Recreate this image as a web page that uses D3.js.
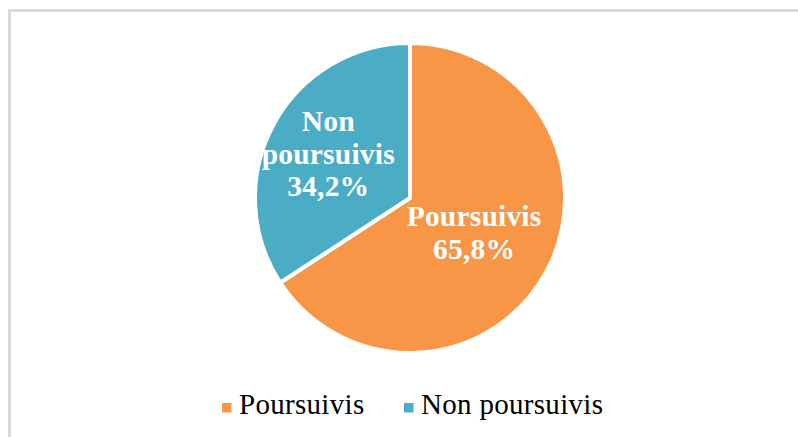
<!DOCTYPE html>
<html>
<head>
<meta charset="utf-8">
<script src="https://cdn.jsdelivr.net/npm/d3@7"></script>
<style>
  html, body { margin: 0; padding: 0; background: #fff; }
  svg { display: block; }
</style>
</head>
<body>
<svg id="chart" width="798" height="437"></svg>
<script>
// pie chart — Poursuivis / Non poursuivis

const categories = ['Poursuivis', 'Non poursuivis'];
const values = [65.8, 34.2];
const labelLines = [['Poursuivis', '65,8%'], ['Non', 'poursuivis', '34,2%']];
const colors = ['#f79646', '#4bacc6'];

const W = 798, H = 437;
const cx = 410, cy = 198, R = 155;
const labelR = [0.47, 0.6]; // radial position of each data label, fraction of R
const lineH = 32.5;

const svg = d3.select('#chart');

// chart area frame (runs off the right and bottom edges)
svg.append('rect')
  .attr('x', 9.5).attr('y', 10.5)
  .attr('width', W + 20).attr('height', H + 20)
  .attr('fill', 'none')
  .attr('stroke', '#d9d9d9')
  .attr('stroke-width', 3);

const pie = d3.pie().sort(null).value(d => d)(values);
const arc = d3.arc().innerRadius(0).outerRadius(R);

const g = svg.append('g').attr('transform', `translate(${cx},${cy})`);

g.selectAll('path')
  .data(pie)
  .join('path')
  .attr('d', arc)
  .attr('fill', (d, i) => colors[i])
  .attr('stroke', '#fff')
  .attr('stroke-width', 4)
  .attr('stroke-linejoin', 'miter');

// data labels
pie.forEach((d, i) => {
  const a = (d.startAngle + d.endAngle) / 2;
  const r = R * labelR[i];
  const x = Math.sin(a) * r;
  const y = -Math.cos(a) * r;
  const lines = labelLines[i];
  const t = g.append('text')
    .attr('text-anchor', 'middle')
    .attr('fill', '#fff')
    .attr('font-family', '"Liberation Serif", "Times New Roman", serif')
    .attr('font-weight', 'bold')
    .attr('font-size', 29.5)
    .attr('letter-spacing', 0.2);
  lines.forEach((s, k) => {
    t.append('tspan')
      .attr('x', x)
      .attr('y', y + (k - (lines.length - 1) / 2) * lineH + 10)
      .text(s);
  });
});

// legend
const legendX = [222, 404];
const legend = svg.append('g');
categories.forEach((c, i) => {
  legend.append('rect')
    .attr('x', legendX[i]).attr('y', 403)
    .attr('width', 9.5).attr('height', 9.5)
    .attr('fill', colors[i]);
  legend.append('text')
    .attr('x', legendX[i] + 17)
    .attr('y', 414)
    .attr('fill', '#000')
    .attr('font-family', '"Liberation Serif", "Times New Roman", serif')
    .attr('font-size', 29)
    .attr('letter-spacing', 0.3)
    .text(c);
});
</script>
</body>
</html>
